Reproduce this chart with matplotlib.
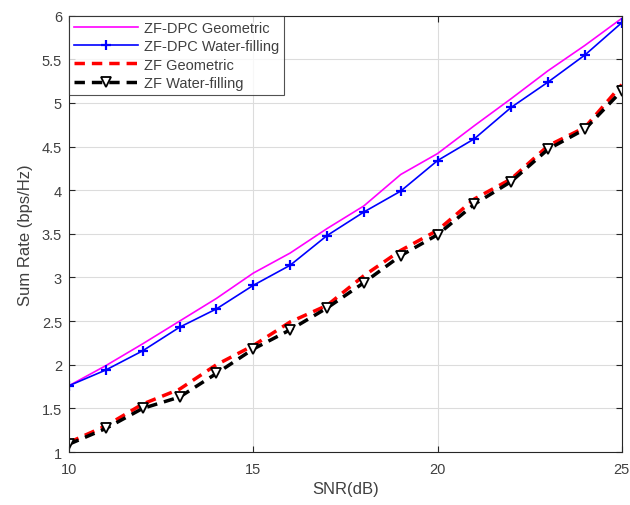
import matplotlib
matplotlib.use("Agg")
import matplotlib.pyplot as plt
from matplotlib.ticker import MultipleLocator

plt.rcParams['font.family'] = ['Liberation Sans', 'DejaVu Sans']

snr_db = [10, 11, 12, 13, 14, 15, 16, 17, 18, 19, 20, 21, 22, 23, 24, 25]

zfdpc_geometric = [1.76, 1.99, 2.24, 2.50, 2.76, 3.05, 3.28, 3.56, 3.82, 4.18,
                   4.42, 4.74, 5.05, 5.37, 5.66, 5.97]
zfdpc_waterfill = [1.76, 1.94, 2.16, 2.43, 2.64, 2.91, 3.14, 3.48, 3.75, 3.99,
                   4.34, 4.59, 4.95, 5.24, 5.55, 5.92]
zf_geometric = [1.11, 1.30, 1.55, 1.72, 2.00, 2.22, 2.49, 2.68, 3.02, 3.31,
                3.54, 3.90, 4.13, 4.51, 4.72, 5.21]
zf_waterfill = [1.09, 1.27, 1.50, 1.63, 1.90, 2.18, 2.40, 2.65, 2.94, 3.25,
                3.49, 3.84, 4.10, 4.47, 4.70, 5.14]

txt = '#404040'

fig = plt.figure(figsize=(6.3, 5.06), dpi=100)
ax = fig.add_axes([0.1095, 0.1047, 0.8775, 0.8623])

ax.plot(snr_db, zfdpc_geometric, color='#ff00ff', lw=1.2, label='ZF-DPC Geometric')
ax.plot(snr_db, zfdpc_waterfill, color='#0000ff', lw=1.2, marker='+', ms=7.5, mew=1.6,
        label='ZF-DPC Water-filling')
ax.plot(snr_db, zf_geometric, color='#ff0000', lw=2.5, ls=(0, (3, 2)), label='ZF Geometric')
ax.plot(snr_db, zf_waterfill, color='black', lw=2.5, ls=(0, (3, 2)), marker='v', ms=7,
        mfc='white', mec='black', mew=1.3, label='ZF Water-filling')

ax.set_xlim(10, 25)
ax.set_ylim(1, 6)
ax.xaxis.set_major_locator(MultipleLocator(5))
ax.yaxis.set_major_locator(MultipleLocator(0.5))
ax.yaxis.set_major_formatter(plt.FuncFormatter(lambda v, p: f'{v:g}'))

ax.grid(True, color='#dcdcdc', lw=0.8)
ax.set_axisbelow(True)
ax.tick_params(direction='in', top=True, right=True, length=4, width=0.8,
               labelsize=10.5, color='#262626', labelcolor=txt)
ax.tick_params(axis='x', pad=7)
ax.tick_params(axis='y', pad=5)
for s in ax.spines.values():
    s.set_color('#262626')
    s.set_linewidth(0.8)

ax.set_xlabel('SNR(dB)', fontsize=12, color=txt, labelpad=4)
ax.set_ylabel('Sum Rate (bps/Hz)', fontsize=12, color=txt, labelpad=6)

leg = ax.legend(loc='upper left', fontsize=10.5, frameon=True, fancybox=False,
                edgecolor='#262626', borderaxespad=0, handlelength=4.4,
                handletextpad=0.4, labelspacing=0.3, borderpad=0.35)
leg.get_frame().set_linewidth(0.8)
for t in leg.get_texts():
    t.set_color(txt)

fig.savefig('out.png', dpi=100)
